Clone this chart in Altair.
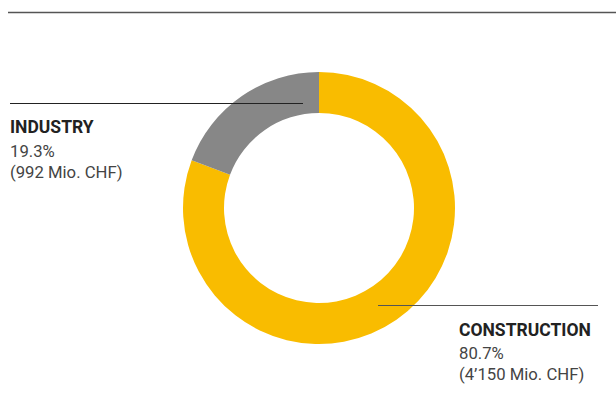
import altair as alt
import pandas as pd

segments = ["CONSTRUCTION", "INDUSTRY"]
amounts = [4150, 992]
shares = ["80.7%", "19.3%"]
amount_labels = ["(4’150 Mio. CHF)", "(992 Mio. CHF)"]
seg_order = [1, 2]
colors = ["#F9BC00", "#878787"]

df = pd.DataFrame({"segment": segments, "amount": amounts, "order": seg_order})

W, H = 616, 396
CX, CY = 319, 208
FONT = "Roboto"

donut = alt.Chart(df).mark_arc(outerRadius=136, innerRadius=95, stroke=None).encode(
    theta=alt.Theta("amount:Q", stack=True),
    order=alt.Order("order:Q"),
    color=alt.Color("segment:N", scale=alt.Scale(domain=segments, range=colors), legend=None),
    x=alt.value(CX),
    y=alt.value(CY),
)

base = alt.Chart(pd.DataFrame({"a": [0]}))

top_rule = base.mark_rule(color="#555555", strokeWidth=1.5).encode(
    x=alt.value(8), x2=alt.value(616), y=alt.value(12.5)
)
ind_rule = base.mark_rule(color="#222222", strokeWidth=1).encode(
    x=alt.value(10), x2=alt.value(303), y=alt.value(103.5)
)
con_rule = base.mark_rule(color="#555555", strokeWidth=1).encode(
    x=alt.value(378), x2=alt.value(598), y=alt.value(305.5)
)

def label(text, x, y, bold=False, size=16.7, color="#444444"):
    return base.mark_text(
        text=text, align="left", baseline="alphabetic", font=FONT,
        fontSize=size, fontWeight="bold" if bold else "normal", color=color,
    ).encode(x=alt.value(x), y=alt.value(y))

labels = [
    label(segments[1], 10, 133, bold=True, size=17.5, color="#222222"),
    label(shares[1], 10, 157),
    label(amount_labels[1], 10, 178),
    label(segments[0], 459, 336, bold=True, size=17.5, color="#222222"),
    label(shares[0], 459, 359),
    label(amount_labels[0], 459, 380),
]

chart = alt.layer(donut, top_rule, ind_rule, con_rule, *labels).properties(
    width=W, height=H, padding=0, autosize=alt.AutoSizeParams(type="none")
).configure_view(stroke=None)

chart.save("out.html", embed_options={"renderer": "svg", "actions": False})
